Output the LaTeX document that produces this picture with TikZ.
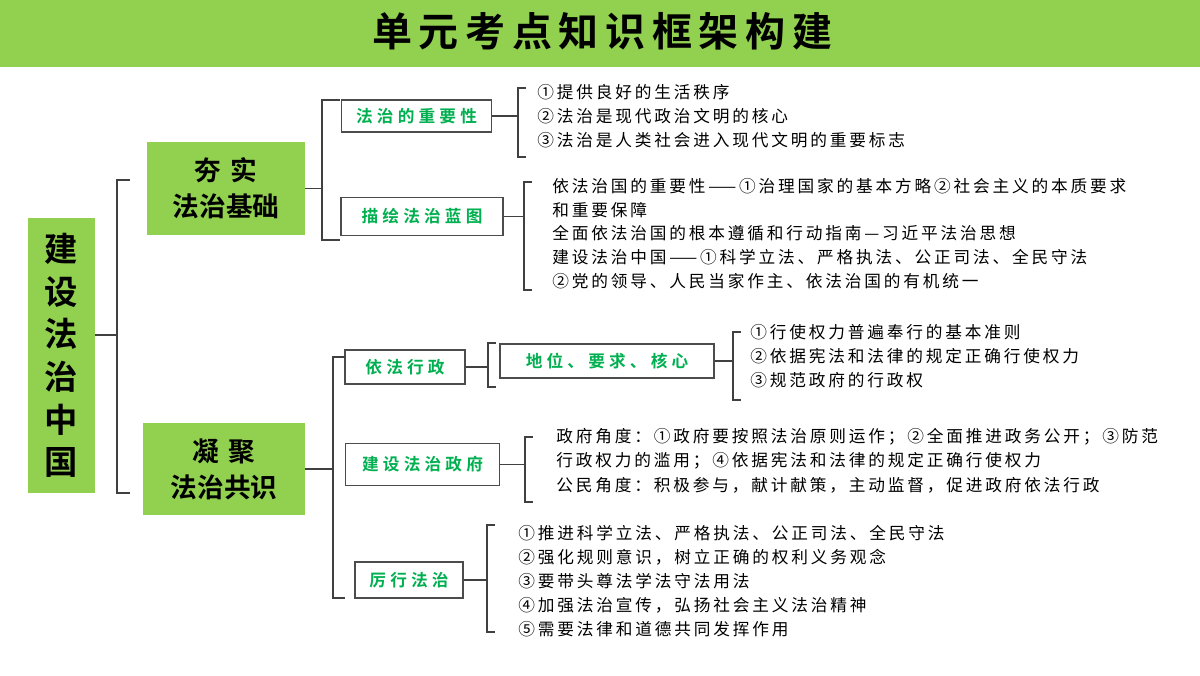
\documentclass[tikz,border=0pt]{standalone}
\usepackage{fontspec}
\newfontfamily\cjk[LetterSpace=17]{Noto Sans CJK SC}
\newfontfamily\cjkbs[LetterSpace=25]{Noto Sans CJK SC Bold}
\newfontfamily\cjkb{Noto Sans CJK SC Bold}
\definecolor{lgreen}{RGB}{146,208,80}
\definecolor{tgreen}{RGB}{0,176,80}
\begin{document}
\begin{tikzpicture}[x=0.75pt,y=-0.75pt,
  gbox/.style={draw=none,fill=lgreen,font=\cjkb\fontsize{20}{27}\selectfont,align=center,inner sep=0pt},
  wbox/.style={draw=black!70,line width=0.8pt,fill=white,text=tgreen,font=\cjkbs\fontsize{12.5}{15}\selectfont,inner sep=0pt},
  body/.style={anchor=west,font=\cjk\fontsize{12.5}{15}\selectfont,inner sep=0pt},
  br/.style={draw=black!75,line width=0.9pt}]
\useasboundingbox (0,0) rectangle (1200,675);
\fill[white] (0,0) rectangle (1200,675);
\fill[lgreen] (0,0) rectangle (1200,67);
\node (title) at (602,31) {\cjkb\fontsize{30}{36}\selectfont 单\,元\,考\,点\,知\,识\,框\,架\,构\,建};
% left
\fill[lgreen] (28,218) rectangle (95,493);
\node[font=\cjkb\fontsize{25}{32}\selectfont,align=center,inner sep=0pt] (root) at (61.5,355.5) {建\\设\\法\\治\\中\\国};
\coordinate (rootE) at (95,335);
\node[gbox,minimum width=118.5pt,minimum height=70pt] (a) at (226,188.5) {夯\,\,实\\法治基础};
\node[gbox,minimum width=121.5pt,minimum height=69pt] (b) at (224,469) {凝\,\,聚\\法治共识};
\draw[br] (rootE) -- (117,335);
\draw[br] (130,180) -- (117,180) -- (117,493) -- (130,493);
% a branch
\node[wbox,minimum width=113pt,minimum height=24pt] (a1) at (416.5,116) {法治的重要性};
\node[wbox,minimum width=121.5pt,minimum height=28pt] (a2) at (422,216.5) {描绘法治蓝图};
\draw[br] (a.east) -- (a.east -| 322,0);
\draw[br] (340,100) -- (322,100) -- (322,240) -- (340,240);
\draw[br] (a1.east) -- (a1.east -| 518,0);
\draw[br] (526,88) -- (518,88) -- (518,157) -- (526,157);
\node[body] (t1) at (537,92) {①提供良好的生活秩序};
\node[body] (t2) at (537,116) {②法治是现代政治文明的核心};
\node[body] (t3) at (537,140) {③法治是人类社会进入现代文明的重要标志};
\draw[br] (a2.east) -- (a2.east -| 524,0);
\draw[br] (532,182) -- (524,182) -- (524,290) -- (532,290);
\node[body] (u1) at (552,186) {依法治国的重要性——①治理国家的基本方略②社会主义的本质要求};
\node[body] (u2) at (552,210) {和重要保障};
\node[body] (u3) at (552,233) {全面依法治国的根本遵循和行动指南—习近平法治思想};
\node[body] (u4) at (552,257) {建设法治中国——①科学立法、严格执法、公正司法、全民守法};
\node[body] (u5) at (552,281) {②党的领导、人民当家作主、依法治国的有机统一};
% b branch
\node[wbox,minimum width=90pt,minimum height=25.5pt] (b1) at (405,367) {依法行政};
\node[wbox,minimum width=160.5pt,minimum height=25.5pt] (b11) at (607,361) {地位、要求、核心};
\node[wbox,minimum width=116pt,minimum height=31pt] (b2) at (422.5,464.5) {建设法治政府};
\node[wbox,minimum width=81pt,minimum height=27pt] (b3) at (409,580) {厉行法治};
\draw[br] (b.east) -- (b.east -| 333,0);
\draw[br] (345,357) -- (333,357) -- (333,598) -- (345,598);
\draw[br] (b1.east) -- (b1.east -| 488,0);
\draw[br] (496,343) -- (488,343) -- (488,387) -- (496,387);
\draw[br] (b11.east) -- (b11.east -| 733,0);
\draw[br] (741,332) -- (733,332) -- (733,400) -- (741,400);
\node[body] (v1) at (750,332) {①行使权力普遍奉行的基本准则};
\node[body] (v2) at (750,356) {②依据宪法和法律的规定正确行使权力};
\node[body] (v3) at (750,380) {③规范政府的行政权};
\draw[br] (b2.east) -- (b2.east -| 525,0);
\draw[br] (533,437) -- (525,437) -- (525,502) -- (533,502);
\node[body] (w1) at (556,437) {政府角度：①政府要按照法治原则运作；②全面推进政务公开；③防范};
\node[body] (w2) at (556,461) {行政权力的滥用；④依据宪法和法律的规定正确行使权力};
\node[body] (w3) at (556,485) {公民角度：积极参与，献计献策，主动监督，促进政府依法行政};
\draw[br] (b3.east) -- (b3.east -| 487,0);
\draw[br] (495,525) -- (487,525) -- (487,632) -- (495,632);
\node[body] (x1) at (518,533) {①推进科学立法、严格执法、公正司法、全民守法};
\node[body] (x2) at (518,557) {②强化规则意识，树立正确的权利义务观念};
\node[body] (x3) at (518,581) {③要带头尊法学法守法用法};
\node[body] (x4) at (518,605) {④加强法治宣传，弘扬社会主义法治精神};
\node[body] (x5) at (518,629) {⑤需要法律和道德共同发挥作用};
\end{tikzpicture}
\end{document}
